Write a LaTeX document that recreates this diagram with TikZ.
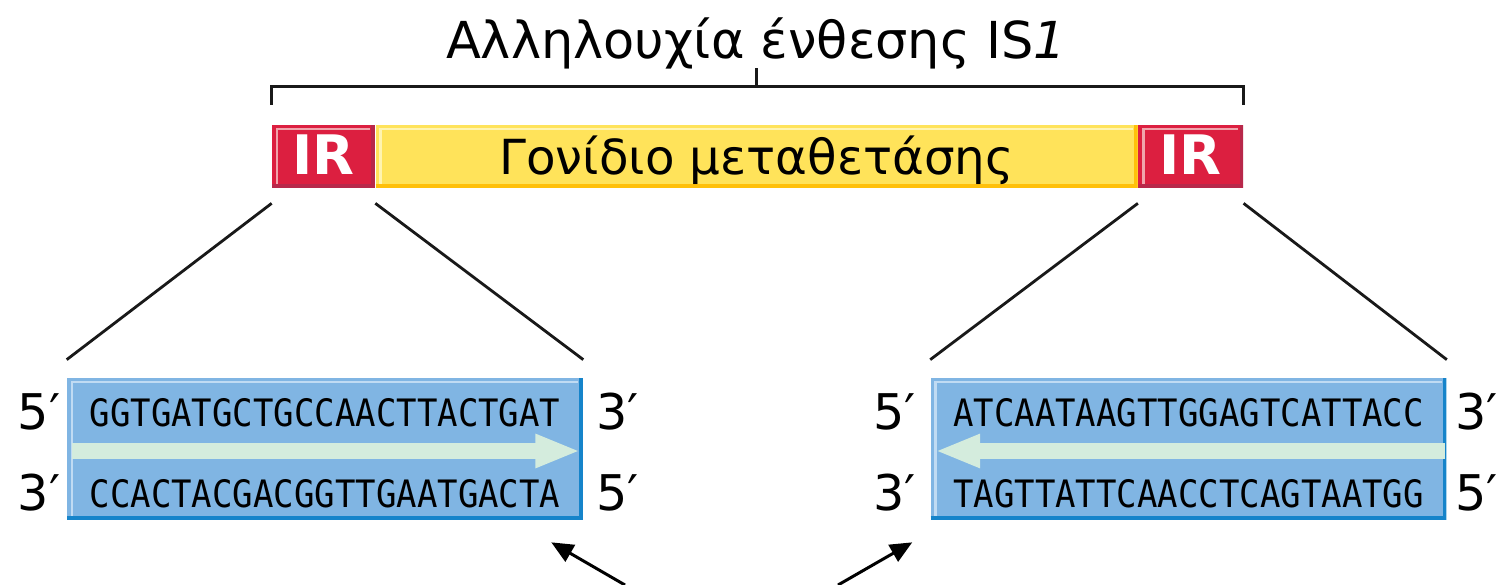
\documentclass[tikz,border=0pt]{standalone}
\usepackage{fontspec}
\setmainfont{DejaVu Sans}
\newfontfamily\seqfont[FakeStretch=0.9]{DejaVu Sans Mono}
\usetikzlibrary{positioning, calc, arrows.meta}

\definecolor{irred}{RGB}{220,31,64}
\definecolor{irdark}{RGB}{184,40,74}
\definecolor{irlight}{RGB}{240,164,172}
\definecolor{genefill}{RGB}{255,227,90}
\definecolor{genedark}{RGB}{255,192,10}
\definecolor{genelight}{RGB}{255,244,176}
\definecolor{seqfill}{RGB}{128,181,227}
\definecolor{seqdark}{RGB}{22,132,202}
\definecolor{seqlight}{RGB}{192,219,243}
\definecolor{bandgreen}{RGB}{212,236,221}

\begin{document}
\begin{tikzpicture}[x=0.02cm, y=-0.02cm,
        bevel/.style 2 args={path picture={
            \draw[#1, line width=4pt] (path picture bounding box.south west)
                -- (path picture bounding box.south east) -- (path picture bounding box.north east);
            \draw[#2, line width=1.6pt] ([xshift=2.8pt,yshift=2.4pt]path picture bounding box.south west)
                |- ([xshift=-2.8pt,yshift=-2.3pt]path picture bounding box.north east);}},
        bar/.style={inner sep=0pt, minimum height=1.26cm, text height=21pt, text depth=0pt},
        irbox/.style={bar, fill=irred, bevel={irdark}{irlight}, text=white,
            font=\bfseries\fontsize{31}{31}\selectfont},
        genebox/.style={bar, fill=genefill, bevel={genedark}{genelight},
            font=\fontsize{27.5}{27.5}\selectfont},
        seqbox/.style={inner sep=0pt, minimum width=10.32cm, minimum height=2.84cm,
            fill=seqfill, bevel={seqdark}{seqlight}},
        seq/.style={anchor=base, inner sep=0pt, font=\seqfont\fontsize{21.5}{21.5}\selectfont},
        prime/.style={inner sep=0pt, font=\fontsize{28}{28}\selectfont},
        link/.style={line width=1.6pt, black!90},
        band/.style={line width=0.32cm, bandgreen, -{Triangle[length=0.9cm, width=0.62cm]}},
        pointer/.style={line width=1.7pt, -{Triangle[length=0.44cm, width=0.38cm]}}]

    \useasboundingbox (0,0) rectangle (1499,585);

    \node[anchor=base, font=\fontsize{29}{29}\selectfont] (title) at (756,58) {Αλληλουχία ένθεσης IS\textit{1}};

    \node[irbox, minimum width=2.06cm]              (irL)  at (323.5,156.5) {IR};
    \node[genebox, minimum width=15.24cm, right=0pt of irL] (gene) {Γονίδιο μεταθετάσης};
    \node[irbox, minimum width=2.1cm, right=0pt of gene]    (irR)  {IR};

    \draw[link] ($(irL.north west)+(0,-20)$) -- ++(0,-18) -| ($(irR.north east)+(0,-20)$);
    \draw[link] ($(gene.north)+(0,-38)$) -- ++(0,-19);

    \node[seqbox]                     (seqL) at (325,449) {};
    \node[seqbox, right=6.94cm of seqL] (seqR) {};

    \draw[link] ($(irL.south west)+(0,15)$) -- ($(seqL.north west)+(0,-18)$);
    \draw[link] ($(irL.south east)+(0,15)$) -- ($(seqL.north east)+(0,-18)$);
    \draw[link] ($(irR.south west)+(0,15)$) -- ($(seqR.north west)+(0,-18)$);
    \draw[link] ($(irR.south east)+(0,15)$) -- ($(seqR.north east)+(0,-18)$);

    \draw[band] ($(seqL.west)+(5,2)$) -- ($(seqL.east)+(-3,2)$);
    \draw[band] ($(seqR.east)+(-2,2)$) -- ($(seqR.west)+(5,2)$);

    \node[seq] (topL) at ($(seqL.north)+(0,49)$)  {GGTGATGCTGCCAACTTACTGAT};
    \node[seq] (botL) at ($(seqL.north)+(0,130)$) {CCACTACGACGGTTGAATGACTA};
    \node[seq] (topR) at ($(seqR.north)+(0,49)$)  {ATCAATAAGTTGGAGTCATTACC};
    \node[seq] (botR) at ($(seqR.north)+(0,130)$) {TAGTTATTCAACCTCAGTAATGG};

    \node[prime, anchor=base east] (l5L) at ($(seqL.west |- topL.base)+(-6,3)$) {5′};
    \node[prime, anchor=base east] (l3L) at ($(seqL.west |- botL.base)+(-6,3)$) {3′};
    \node[prime, anchor=base west] (r3L) at ($(seqL.east |- topL.base)+(13,3)$) {3′};
    \node[prime, anchor=base west] (r5L) at ($(seqL.east |- botL.base)+(13,3)$) {5′};
    \node[prime, anchor=base east] (l5R) at ($(seqR.west |- topR.base)+(-14,3)$) {5′};
    \node[prime, anchor=base east] (l3R) at ($(seqR.west |- botR.base)+(-14,3)$) {3′};
    \node[prime, anchor=base west] (r3R) at ($(seqR.east |- topR.base)+(8,3)$) {3′};
    \node[prime, anchor=base west] (r5R) at ($(seqR.east |- botR.base)+(8,3)$) {5′};

    \coordinate (tailL) at (625,585);
    \coordinate (tailR) at (838,585);
    \draw[pointer] (tailL) -- ($(seqL.south east)+(-32,22)$);
    \draw[pointer] (tailR) -- ($(seqR.south west)+(-18,22)$);
\end{tikzpicture}
\end{document}
